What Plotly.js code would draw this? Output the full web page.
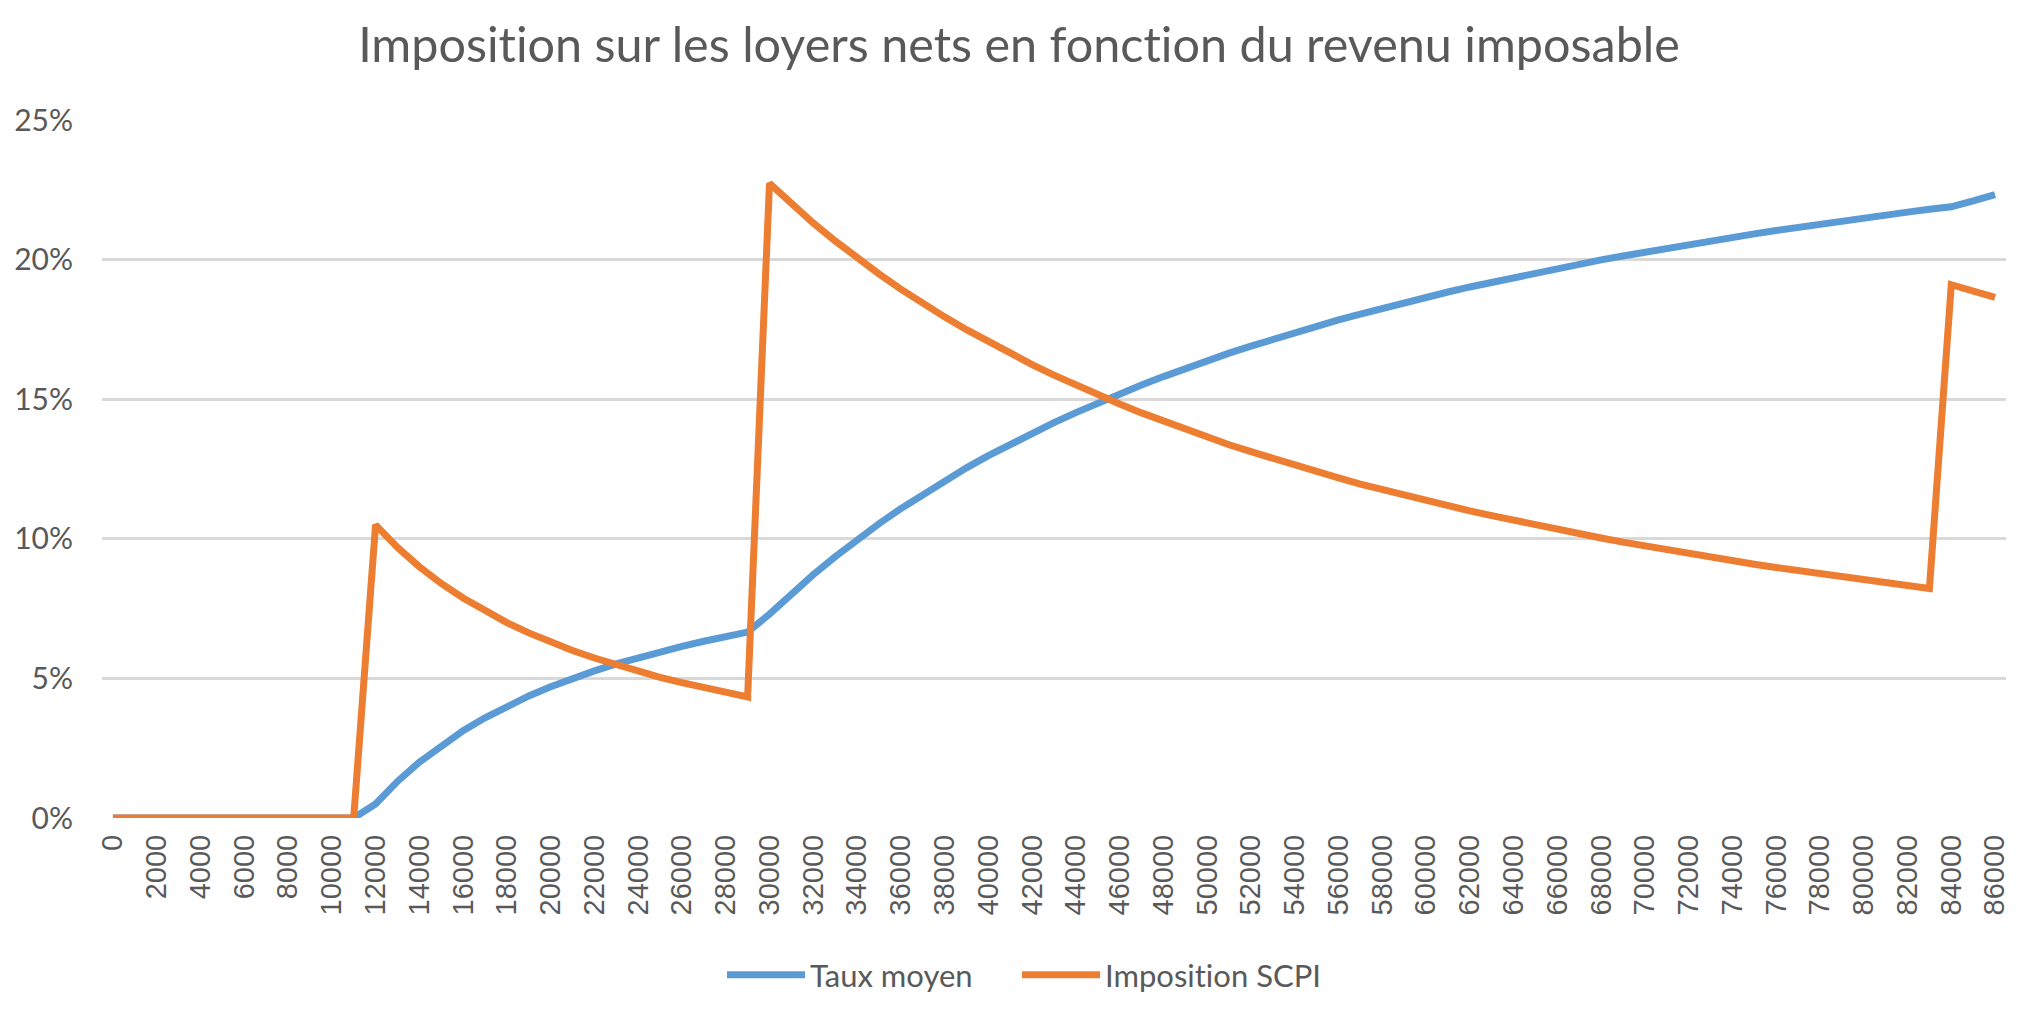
<!DOCTYPE html>
<html>
<head>
<meta charset="utf-8">
<script src="https://cdn.plot.ly/plotly-3.0.1.min.js"></script>
<style>
  html, body { margin: 0; padding: 0; background: #fff; }
  #chart { width: 2038px; height: 1026px; }
  #chart text { font-variant-ligatures: none; font-feature-settings: "liga" 0; }
</style>
</head>
<body>
<div id="chart"></div>
<script>
"use strict"
// revenu imposable (categories)
let revenu = [0, 1000, 2000, 3000, 4000, 5000, 6000, 7000, 8000, 9000,
    10000, 11000, 12000, 13000, 14000, 15000, 16000, 17000, 18000, 19000,
    20000, 21000, 22000, 23000, 24000, 25000, 26000, 27000, 28000, 29000,
    30000, 31000, 32000, 33000, 34000, 35000, 36000, 37000, 38000, 39000,
    40000, 41000, 42000, 43000, 44000, 45000, 46000, 47000, 48000, 49000,
    50000, 51000, 52000, 53000, 54000, 55000, 56000, 57000, 58000, 59000,
    60000, 61000, 62000, 63000, 64000, 65000, 66000, 67000, 68000, 69000,
    70000, 71000, 72000, 73000, 74000, 75000, 76000, 77000, 78000, 79000,
    80000, 81000, 82000, 83000, 84000, 85000, 86000];

// en %
let tauxMoyen = [0, 0, 0, 0, 0, 0, 0, 0, 0, 0, 0, 0,
    0.5, 1.31, 2.0, 2.6, 3.13, 3.59, 4.0, 4.37, 4.7, 5.0, 5.27, 5.52, 5.75, 5.96, 6.15, 6.33, 6.5, 6.66,
    7.3, 8.03, 8.72, 9.36, 9.97, 10.54, 11.08, 11.59, 12.08, 12.54, 12.98, 13.39, 13.79, 14.16, 14.52,
    14.87, 15.2, 15.51, 15.81, 16.1, 16.38, 16.65, 16.9, 17.15, 17.39, 17.62, 17.84, 18.05, 18.26, 18.46,
    18.65, 18.84, 19.02, 19.19, 19.36, 19.52, 19.68, 19.84, 19.99, 20.13, 20.27, 20.41, 20.54, 20.67,
    20.8, 20.92, 21.04, 21.16, 21.27, 21.38, 21.49, 21.59, 21.7, 21.8, 21.89, 22.1, 22.33];

let impositionSCPI = [0, 0, 0, 0, 0, 0, 0, 0, 0, 0, 0, 0,
    10.5, 9.69, 9.0, 8.4, 7.88, 7.41, 7.0, 6.63, 6.3, 6.0, 5.73, 5.48, 5.25, 5.04, 4.85, 4.67, 4.5, 4.34,
    22.73, 22.0, 21.31, 20.67, 20.06, 19.49, 18.94, 18.43, 17.95, 17.49, 17.05, 16.63, 16.24, 15.86, 15.5,
    15.16, 14.83, 14.51, 14.21, 13.92, 13.64, 13.37, 13.12, 12.87, 12.63, 12.4, 12.18, 11.96, 11.76, 11.56,
    11.37, 11.18, 11.0, 10.83, 10.66, 10.49, 10.33, 10.18, 10.03, 9.88, 9.74, 9.61, 9.47, 9.34,
    9.22, 9.09, 8.97, 8.86, 8.74, 8.63, 8.53, 8.42, 8.32, 8.22,
    19.1, 18.87, 18.65];

let xTicks = [0, 2000, 4000, 6000, 8000, 10000, 12000, 14000, 16000, 18000, 20000,
    22000, 24000, 26000, 28000, 30000, 32000, 34000, 36000, 38000, 40000, 42000,
    44000, 46000, 48000, 50000, 52000, 54000, 56000, 58000, 60000, 62000, 64000,
    66000, 68000, 70000, 72000, 74000, 76000, 78000, 80000, 82000, 84000, 86000];

let diagram = document.getElementById('chart');

var trace1 = {
    x: revenu,
    y: tauxMoyen,
    name: 'Taux moyen',
    type: 'scatter',
    mode: 'lines',
    hoverinfo: 'none',
    legend: 'legend',
    line: { color: '#5B9BD5', width: 7 }
};

var trace2 = {
    x: revenu,
    y: impositionSCPI,
    name: 'Imposition SCPI',
    type: 'scatter',
    mode: 'lines',
    hoverinfo: 'none',
    legend: 'legend2',
    line: { color: '#ED7D31', width: 7 }
};

// one legend box per series, side by side under the chart
function legendBox(left) {
    return {
        orientation: 'h',
        xref: 'container',
        yref: 'container',
        x: left / 2038,
        xanchor: 'left',
        y: 1 - 975 / 1026,
        yanchor: 'middle',
        font: { size: 31, color: '#595959' },
        itemwidth: 78
    };
}

var layout = {
    width: 2038,
    height: 1026,
    paper_bgcolor: '#ffffff',
    plot_bgcolor: '#ffffff',
    font: { family: 'Lato, sans-serif', color: '#595959' },
    margin: { l: 102, r: 32, t: 120, b: 208 },
    title: {
        text: 'Imposition sur les loyers nets en fonction du revenu imposable',
        font: { size: 48.5, color: '#595959', family: 'Lato, sans-serif' },
        x: 0.5,
        xanchor: 'center',
        y: 1 - 45 / 1026,
        yanchor: 'middle'
    },
    xaxis: {
        range: [-500, 86500],
        tickmode: 'array',
        tickvals: xTicks,
        ticktext: xTicks.map(String),
        tickangle: -90,
        tickfont: { family: '"Liberation Sans", Arial, sans-serif', size: 29, color: '#595959' },
        ticklabelstandoff: 10,
        showgrid: false,
        zeroline: false,
        showline: false,
        ticks: '',
        fixedrange: true
    },
    yaxis: {
        range: [0, 25],
        dtick: 5,
        ticksuffix: '%',
        tickfont: { size: 30, color: '#595959' },
        showgrid: true,
        gridcolor: '#D9D9D9',
        gridwidth: 3,
        zeroline: false,
        showline: false,
        ticks: '',
        ticklabelstandoff: 28,
        fixedrange: true
    },
    showlegend: true,
    legend: legendBox(722),
    legend2: legendBox(1017)
};

Plotly.newPlot(diagram, [trace1, trace2], layout, { staticPlot: true });
</script>
</body>
</html>
